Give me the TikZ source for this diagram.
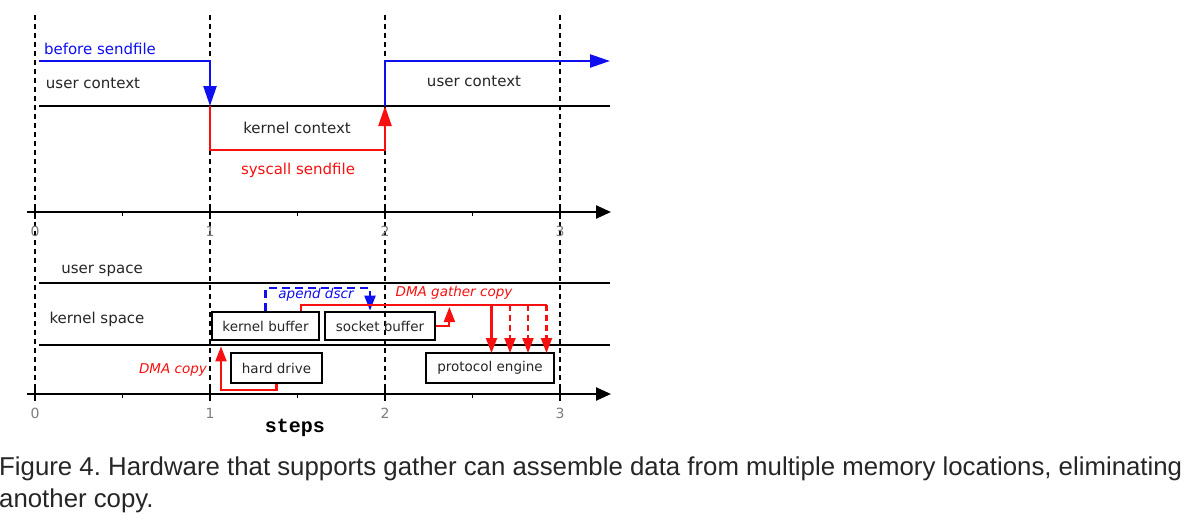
\documentclass[tikz,border=0pt]{standalone}
\usepackage{fontspec}
\setmainfont{DejaVu Sans}
\newfontfamily\capfont{Liberation Sans}
\newfontfamily\stepsfont{Liberation Mono}
\usetikzlibrary{arrows.meta}
\definecolor{dblue}{RGB}{15,15,240}
\definecolor{dred}{RGB}{248,16,16}
\definecolor{tickgray}{RGB}{125,125,125}
\definecolor{capgray}{RGB}{38,38,38}
\frenchspacing
\begin{document}
\begin{tikzpicture}[x=1pt,y=-1pt,
  blk/.style={line width=2.2pt,black},
  vdash/.style={line width=1.4pt,black,dash pattern=on 5pt off 4pt},
  bigtip/.style={-{Triangle[length=20pt,width=13pt]}},
  smalltip/.style={-{Triangle[length=15pt,width=11pt]}},
  axisline/.style={line width=2.4pt,-{Triangle[length=15pt,width=13pt]}},
  ctxline/.style={line width=2.4pt},
  lowline/.style={line width=2.1pt},
  lbl/.style={font=\fontsize{15}{17}\selectfont,inner sep=0pt,text=black!85},
  ticklbl/.style={font=\fontsize{14}{16}\selectfont,text=tickgray,inner sep=0pt},
  ilbl/.style={font=\fontsize{13.5}{16}\selectfont\itshape,inner sep=0pt},
  boxnode/.style={draw,line width=2.8pt,inner sep=0pt,font=\fontsize{13.5}{16}\selectfont,text=black!85}
]
\useasboundingbox[fill=white] (0,0) rectangle (1187,523);

% vertical dashed step lines
\foreach \i/\xx in {0/35,1/210,2/385,3/560}{
  \coordinate (vt\i) at (\xx,15);
  \coordinate (vb\i) at (\xx,400);
  \draw[vdash] (vt\i) -- (vb\i);
}

% axes
\coordinate (ax1s) at (27,212);
\coordinate (ax1e) at (611,212);
\coordinate (ax2s) at (27,394);
\coordinate (ax2e) at (611,394);
\draw[axisline] (ax1s) -- (ax1e);
\draw[axisline] (ax2s) -- (ax2e);
\foreach \yy/\nm in {212/a,394/b}{
  \foreach \i/\xx in {0/35,1/210,2/385,3/560}{
    \draw[line width=2.6pt] (\xx,\yy-6) -- (\xx,\yy+7);
  }
  \foreach \xx in {122.5,297.5,472.5}{
    \draw[line width=1.2pt] (\xx,\yy) -- (\xx,\yy+4);
  }
}
\foreach \i/\xx in {0/35,1/210,2/385,3/560}{
  \node[ticklbl] (ta\i) at (\xx,231) {\i};
  \node[ticklbl] (tb\i) at (\xx,413) {\i};
}

% top section: contexts
\coordinate (ul) at (39,106);
\coordinate (ur) at (610,106);
\draw[blk] (ul) -- (ur);

\coordinate (b0) at (39,61);
\coordinate (b1) at (210,106);
\coordinate (r1) at (385,106);
\coordinate (b3) at (610,61);
\draw[dblue,ctxline,bigtip] (b0) -| (b1);
\draw[dred,ctxline,bigtip] (b1) |- (297,150) -| (r1);
\draw[dblue,ctxline,bigtip] (r1) |- (b3);

\node[lbl,text=dblue] (befsend) at (100,49) {before sendfile};
\node[lbl] (uctx1) at (93,83) {user context};
\node[lbl] (kctx) at (297,128) {kernel context};
\node[lbl,text=dred] (sysc) at (298,170) {syscall sendfile};
\node[lbl] (uctx2) at (474,81) {user context};

% bottom section: spaces
\coordinate (us1) at (39,283);
\coordinate (us2) at (610,283);
\coordinate (ks1) at (39,345);
\coordinate (ks2) at (610,345);
\draw[blk] (us1) -- (us2);
\draw[blk] (ks1) -- (ks2);
\node[lbl] (uspace) at (102,271) {user space};
\node[lbl] (kspace) at (97,319) {kernel space};

% boxes
\node[boxnode,minimum width=107pt,minimum height=28pt] (kb) at (265.5,326) {kernel buffer};
\node[boxnode,minimum width=110pt,minimum height=28pt] (sb) at (380,326) {socket buffer};
\node[boxnode,minimum width=91pt,minimum height=30pt] (hd) at (276.5,368) {hard drive};
\node[boxnode,minimum width=128pt,minimum height=30pt] (pe) at (490,368) {protocol engine};

% DMA copy
\draw[dred,lowline,smalltip] (hd.south) -- ++(0,6) -| ([xshift=-44.5pt,yshift=-5pt]kb.south);
\node[ilbl,text=dred] (dmacopy) at (173,370) {DMA copy};

% append descriptor
\draw[dblue,lowline,dash pattern=on 8pt off 5pt] (kb.north) |- (370,288) -- ++(0,6);
\draw[dblue,lowline,smalltip] (370,292) -- ([xshift=-10pt]sb.north);
\node[ilbl,text=dblue] (apend) at (316,295) {apend dscr};

% DMA gather copy
\coordinate (g0) at (546.5,305);
\draw[dred,lowline] ([xshift=35.5pt]kb.north) |- (g0);
\draw[dred,lowline,smalltip] (sb.east) -- ++(13,0) -- ++(0,-19);
\draw[dred,lowline,smalltip] (491.5,305) -- (491.5,353);
\foreach \xx in {510,528,546.5}{
  \draw[dred,lowline,dash pattern=on 6pt off 4pt] (\xx,305) -- (\xx,338);
  \draw[dred,lowline,smalltip] (\xx,338) -- (\xx,353);
}
\node[ilbl,text=dred] (dmag) at (454,293) {DMA gather copy};

\node[font=\stepsfont\bfseries\fontsize{20}{22}\selectfont,inner sep=0pt] (steps) at (295,428) {steps};

% caption
\node[anchor=base west,inner sep=0pt,font=\capfont\fontsize{25.8}{30}\selectfont,text=capgray] (cap1) at (-1,475) {Figure 4. Hardware that supports gather can assemble data from multiple memory locations, eliminating};
\node[anchor=base west,inner sep=0pt,font=\capfont\fontsize{25.8}{30}\selectfont,text=capgray] (cap2) at (-1,507) {another copy.};
\end{tikzpicture}
\end{document}
